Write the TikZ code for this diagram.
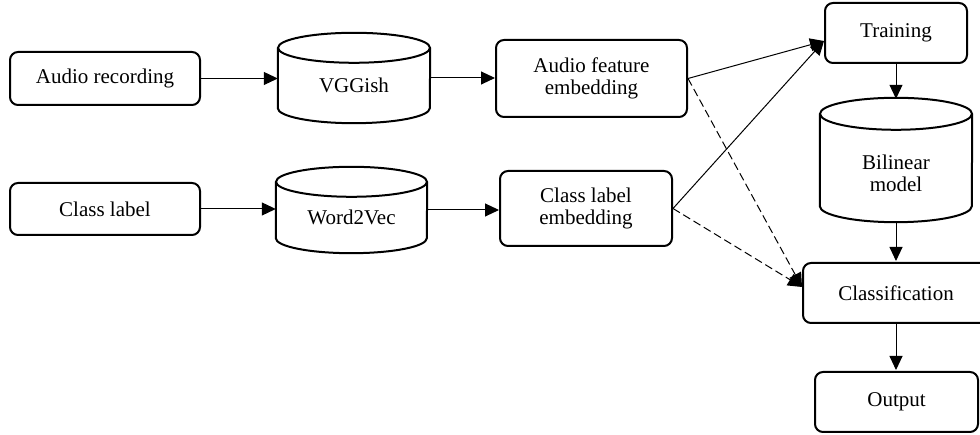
\documentclass[tikz,border=0pt]{standalone}
\usepackage{fontspec}
\setmainfont{Liberation Serif}
\usetikzlibrary{arrows.meta}
\newcommand\mycyl[3]{% name, half width, ry
  \draw[boxline] ([yshift=-#3pt]#1.north west) -- ([yshift=#3pt]#1.south west)
    arc[start angle=180,end angle=360,x radius=#2pt,y radius=#3pt]
    -- ([yshift=-#3pt]#1.north east);
  \draw[boxline] ([yshift=-#3pt]#1.north) ellipse[x radius=#2pt,y radius=#3pt];
}
\begin{document}
\begin{tikzpicture}[x=1pt,y=1pt,
  every node/.style={font=\fontsize{21}{22}\selectfont, align=center, inner sep=0pt},
  boxline/.style={line width=2pt},
  rbox/.style={draw, boxline, rounded corners=8pt},
  cylbox/.style={draw=none},
  conn/.style={line width=1pt, -{Triangle[length=14pt,width=13pt]}},
  dconn/.style={conn, dash pattern=on 8pt off 4pt}]
\useasboundingbox (0,0) rectangle (980,435);
\fill[white] (0,0) rectangle (980,435);
\clip (0,0) rectangle (980,435);
% nodes
\node[rbox, minimum width=190, minimum height=53] (rec) at (105,356.5) {Audio recording};
\node[rbox, minimum width=190, minimum height=52] (cls) at (105,226) {Class label};
\node[cylbox, minimum width=152, minimum height=90] (vgg) at (354,357) {};
\node[cylbox, minimum width=151, minimum height=86] (w2v) at (351.5,225) {};
\node[rbox, minimum width=191, minimum height=77] (afe) at (591.5,356.5) {Audio feature\\embedding};
\node[rbox, minimum width=172, minimum height=75] (cle) at (586,226.5) {Class label\\embedding};
\node[rbox, minimum width=142, minimum height=60] (trn) at (896,402) {Training};
\node[cylbox, minimum width=152, minimum height=124] (bil) at (896,275) {};
\node[rbox, minimum width=186, minimum height=60] (clf) at (896,142) {Classification};
\node[rbox, minimum width=163, minimum height=60] (out) at (896.5,33) {Output};
% cylinders
\mycyl{vgg}{76}{15}
\mycyl{w2v}{75.5}{15}
\mycyl{bil}{76}{16}
\node (vggt) at ([yshift=-7pt]vgg.center) {VGGish};
\node (w2vt) at ([yshift=-7pt]w2v.center) {Word2Vec};
\node (bilt) at ([yshift=-13pt]bil.center) {Bilinear\\model};
% connector end points
\coordinate (tin) at (824,394);
\coordinate (cin) at (802,148);
% connectors
\draw[conn] (rec.east) -- (rec.east -| vgg.west);
\draw[conn] (cls.east) -- (cls.east -| w2v.west);
\draw[conn] (vgg.east) -- (vgg.east -| afe.west);
\draw[conn] (w2v.east) -- (w2v.east -| cle.west);
\draw[conn] (afe.east) -- (tin);
\draw[conn] (cle.east) -- (tin);
\draw[dconn] (afe.east) -- (cin);
\draw[dconn] (cle.east) -- (cin);
\draw[conn] (trn.south) -- ([yshift=-1pt]bil.north);
\draw[conn] (bil.south) -- ([yshift=1pt]clf.north);
\draw[conn] (clf.south) -- ([yshift=1pt]clf.south |- out.north);
\end{tikzpicture}
\end{document}
